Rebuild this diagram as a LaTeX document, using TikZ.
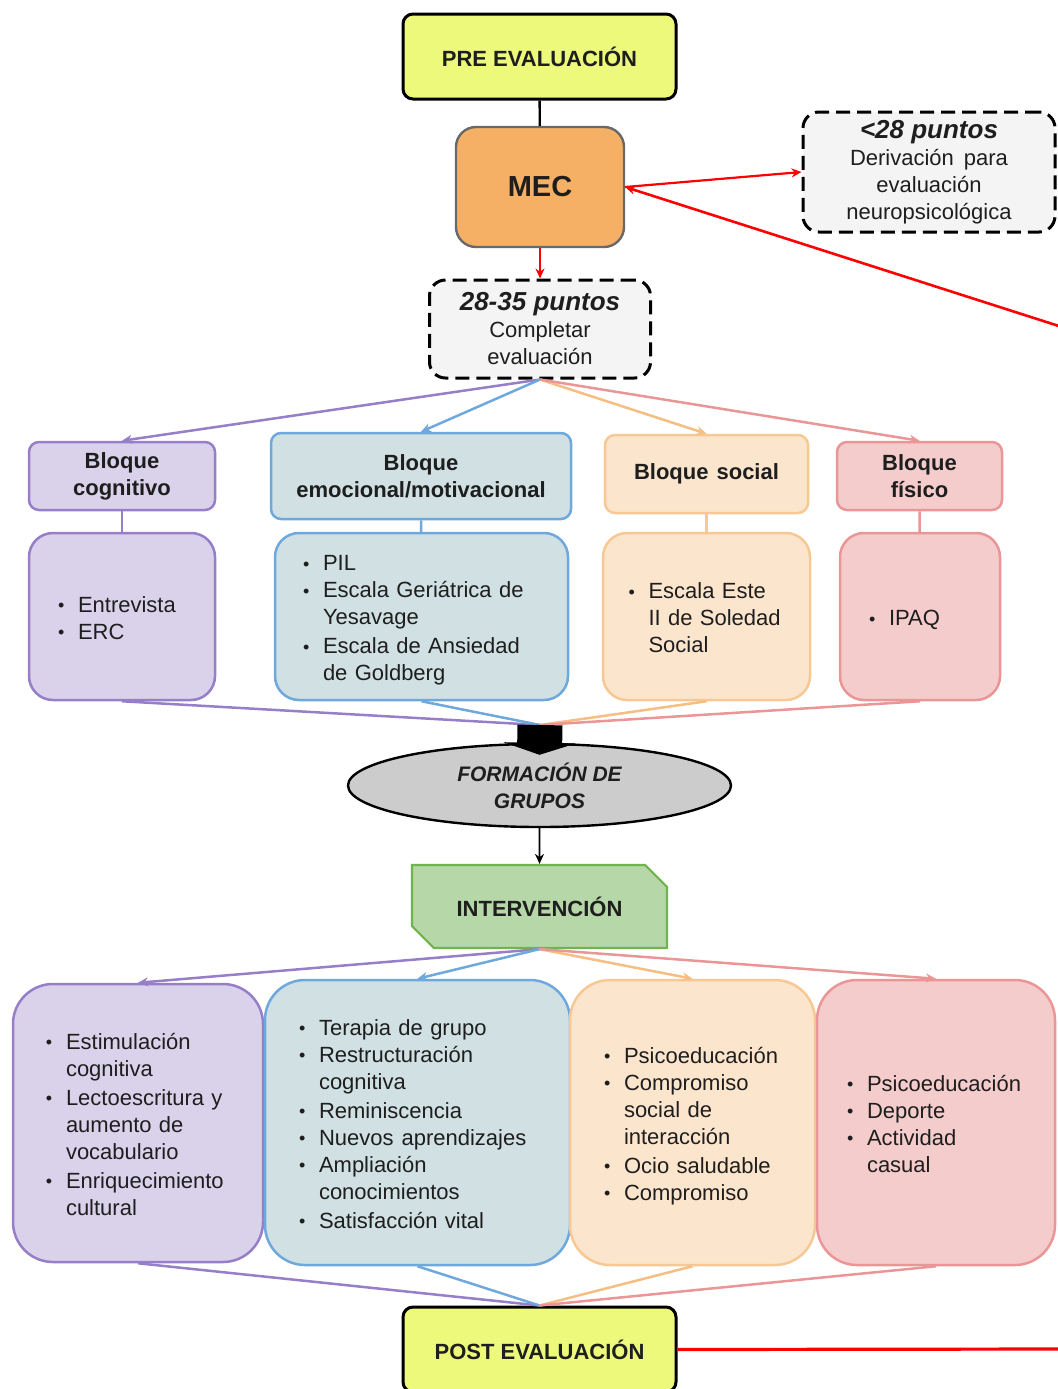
\documentclass[tikz,border=0pt]{standalone}
\usepackage{fontspec}
\setmainfont{Liberation Sans}
\usetikzlibrary{arrows.meta,shapes.geometric,shapes.misc}

\definecolor{preY}{RGB}{237,249,122}
\definecolor{mecO}{RGB}{245,176,102}
\definecolor{mecB}{RGB}{105,105,105}
\definecolor{dashF}{RGB}{244,244,244}
\definecolor{purB}{RGB}{150,126,201}
\definecolor{purF}{RGB}{218,210,234}
\definecolor{bluB}{RGB}{111,168,220}
\definecolor{bluF}{RGB}{208,224,227}
\definecolor{oraB}{RGB}{248,200,148}
\definecolor{oraL}{RGB}{246,190,130}
\definecolor{oraF}{RGB}{252,229,205}
\definecolor{pinB}{RGB}{234,150,150}
\definecolor{pinF}{RGB}{244,204,204}
\definecolor{grnB}{RGB}{112,180,80}
\definecolor{grnF}{RGB}{182,215,168}
\definecolor{ellF}{RGB}{204,204,204}
\definecolor{txt}{RGB}{30,30,30}

\newcommand\bul{\raisebox{0.3pt}{\fontsize{9}{9}\selectfont\textbullet}}
\newcommand\itm[1]{\par\noindent\makebox[10pt][l]{\bul}\begin{tabular}[t]{@{}l@{}}#1\end{tabular}}

\tikzset{
  sBase/.style={inner sep=0pt, align=center, text=txt, font=\fontsize{11}{13.5}\selectfont},
  sEval/.style={sBase, draw=black, line width=1.5pt, fill=preY, rounded corners=5pt,
     minimum width=136.5pt, minimum height=42.5pt, font=\fontsize{11}{13.5}\selectfont\bfseries},
  sMec/.style={sBase, draw=mecB, line width=1.2pt, fill=mecO, rounded corners=10pt,
     minimum width=84pt, minimum height=60pt, font=\fontsize{14.5}{16}\selectfont\bfseries},
  sDash/.style={sBase, draw=black, line width=1.5pt, dash pattern=on 7pt off 3.5pt, fill=dashF, rounded corners=8pt},
  sHdr/.style={sBase, line width=1.25pt, rounded corners=5pt, font=\fontsize{11}{13.5}\selectfont\bfseries},
  sLst/.style={sBase, line width=1.25pt, rounded corners=12pt, align=left},
  sBig/.style={sBase, line width=1.25pt, rounded corners=20pt, align=left},
  cPur/.style={draw=purB, fill=purF},
  cBlu/.style={draw=bluB, fill=bluF},
  cOra/.style={draw=oraB, fill=oraF},
  cPin/.style={draw=pinB, fill=pinF},
  sConn/.style={line width=1.25pt, -{Stealth[length=5pt,width=4.5pt]}},
  sLink/.style={line width=1.25pt},
  sRed/.style={draw=red, line width=1.1pt},
}

\begin{document}
\begin{tikzpicture}[x=0.5pt,y=-0.5pt]
\useasboundingbox (0,0) rectangle (1057,1389);

% top
\node[sEval] (pre) at (539.5,56.5) {PRE EVALUACIÓN};
\node[sMec] (mec) at (540,187) {MEC};
\node[sDash, minimum width=126pt, minimum height=60pt] (lt28) at (929,172)
  {{\fontsize{13}{14}\selectfont\bfseries\itshape <28 puntos}\\Derivación\hspace{5pt}para\\evaluación\\neuropsicológica};
\node[sDash, minimum width=110.5pt, minimum height=49pt] (mid) at (540,329)
  {{\fontsize{13}{14}\selectfont\bfseries\itshape 28-35 puntos}\\Completar\\evaluación};

\coordinate (offA) at (1062,327);
\coordinate (offB) at (1062,1349);

% headers
\node[sHdr, cPur, minimum width=93pt, minimum height=34pt] (hcog) at (122,476) {Bloque\\cognitivo};
\node[sHdr, cBlu, minimum width=150pt, minimum height=43pt] (hemo) at (421,476) {Bloque\\emocional/motivacional};
\node[sHdr, cOra, minimum width=101.5pt, minimum height=39pt] (hsoc) at (706.5,474) {Bloque\hspace{4pt}social};
\node[sHdr, cPin, minimum width=82.5pt, minimum height=34pt] (hfis) at (919.5,476) {Bloque\\físico};

% lists
\node[sLst, cPur, minimum width=93pt, minimum height=83.5pt, text width=64pt] (lcog) at (122,616.5)
  {\itm{Entrevista}\itm{ERC}};
\node[sLst, cBlu, minimum width=146.5pt, minimum height=83.5pt, text width=118.5pt] (lemo) at (421.5,616.5)
  {\itm{PIL}\itm{Escala Geriátrica de\\Yesavage}\itm{Escala de Ansiedad\\de Goldberg}};
\node[sLst, cOra, minimum width=103.5pt, minimum height=83.5pt, text width=78pt] (lsoc) at (706.5,616.5)
  {\itm{Escala Este\\II de Soledad\\Social}};
\node[sLst, cPin, minimum width=80pt, minimum height=83.5pt, text width=51pt] (lfis) at (920,616.5)
  {\itm{IPAQ}};

\coordinate (conv) at (540,725);

% formation + intervention
\node[sBase, ellipse, draw=black, line width=1.2pt, fill=ellF, minimum width=191.5pt, minimum height=41.5pt,
  font=\fontsize{10.5}{13.5}\selectfont\bfseries\itshape] (form) at (539.5,785.5) {FORMACIÓN DE\\GRUPOS};
\node[sBase, chamfered rectangle, chamfered rectangle corners={north east,south west},
  chamfered rectangle xsep=6pt, chamfered rectangle ysep=6pt,
  draw=grnB, line width=1.1pt, fill=grnF, minimum width=127.5pt, minimum height=41.5pt,
  font=\fontsize{11}{13.5}\selectfont\bfseries] (interv) at (539.5,906.5) {INTERVENCIÓN};

% bottom boxes
\node[sBig, cPur, minimum width=125pt, minimum height=139pt, text width=92pt] (bcog) at (138,1123)
  {\itm{Estimulación\\cognitiva}\itm{Lectoescritura y\\aumento de\\vocabulario}\itm{Enriquecimiento\\cultural}};
\node[sBig, cBlu, minimum width=152.5pt, minimum height=142.5pt, text width=118.5pt] (bemo) at (417.5,1122.5)
  {\itm{Terapia de grupo}\itm{Restructuración\\cognitiva}\itm{Reminiscencia}\itm{Nuevos\hspace{4pt}aprendizajes}\itm{Ampliación\\conocimientos}\itm{Satisfacción vital}};
\node[sBig, cOra, minimum width=122.5pt, minimum height=142.5pt, text width=88.5pt] (bsoc) at (692.5,1122.5)
  {\itm{Psicoeducación}\itm{Compromiso\\social de\\interacción}\itm{Ocio saludable}\itm{Compromiso}};
\node[sBig, cPin, minimum width=119pt, minimum height=142.5pt, text width=89pt] (bfis) at (936,1122.5)
  {\itm{Psicoeducación}\itm{Deporte}\itm{Actividad\\casual}};

\node[sEval] (post) at (539.5,1349.5) {POST EVALUACIÓN};

% connectors top
\draw[line width=1.2pt] (pre) -- (mec);
\draw[sRed, -{Stealth[length=5pt,width=4.5pt]}] (mec) -- (mid);
\draw[sRed, -{Stealth[length=5pt,width=4.5pt]}] (mec.east) -- (lt28.west);
\draw[sRed, line width=1.3pt, -{Stealth[length=5pt,width=4.5pt]}] (offA) -- (mec.east);

\draw[sConn, purB] (mid.south) -- (hcog.north);
\draw[sConn, bluB] (mid.south) -- (hemo.north);
\draw[sConn, oraL] (mid.south) -- (hsoc.north);
\draw[sConn, pinB] (mid.south) -- (hfis.north);

\draw[sLink, purB] (hcog) -- (lcog);
\draw[sLink, bluB] (hemo) -- (lemo);
\draw[sLink, oraB] (hsoc) -- (lsoc);
\draw[sLink, pinB] (hfis) -- (lfis);

\draw[sLink, purB] (lcog.south) -- (conv);
\draw[sLink, bluB] (lemo.south) -- (conv);
\draw[sLink, oraL] (lsoc.south) -- (conv);
\draw[sLink, pinB] (lfis.south) -- (conv);

\draw[line width=22.5pt, -{Triangle[length=6pt,width=36pt]}] (conv) -- ([yshift=-6pt]form.north);
\draw[line width=0.8pt, -{Stealth[length=5pt,width=4.5pt]}] (form) -- (interv);

\draw[sConn, purB] (interv.south) -- (bcog.north);
\draw[sConn, bluB] (interv.south) -- (bemo.north);
\draw[sConn, oraL] (interv.south) -- (bsoc.north);
\draw[sConn, pinB] (interv.south) -- (bfis.north);

\draw[sLink, purB] (bcog.south) -- (post.north);
\draw[sLink, bluB] (bemo.south) -- (post.north);
\draw[sLink, oraL] (bsoc.south) -- (post.north);
\draw[sLink, pinB] (bfis.south) -- (post.north);

\draw[sRed, line width=1.6pt] (post.east) -- (offB);
\end{tikzpicture}
\end{document}
